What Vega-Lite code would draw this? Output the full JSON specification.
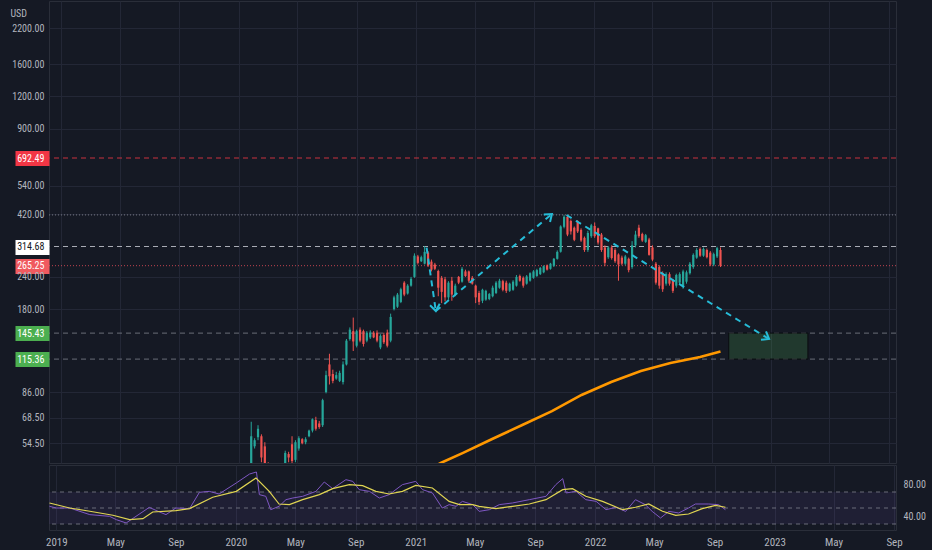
{
  "$schema": "https://vega.github.io/schema/vega-lite/v6.json",
  "background": "#151924",
  "padding": {"left": 7, "top": 0, "right": 12, "bottom": 8},
  "spacing": 0,
  "config": {
    "view": {"stroke": "#2a2e39", "strokeWidth": 1},
    "axis": {
      "labelFont": "Liberation Sans Narrow, Roboto Condensed, DejaVu Sans Condensed, Liberation Sans, sans-serif",
      "labelFontSize": 11,
      "labelColor": "#b2b5be",
      "gridColor": "#232736",
      "domain": false,
      "ticks": false
    }
  },
  "datasets": {
    "candles": [
      {"date": "2020-01-27", "open": 44, "high": 66, "low": 42, "close": 58},
      {"date": "2020-02-03", "open": 53, "high": 57, "low": 52, "close": 56},
      {"date": "2020-02-10", "open": 57.5, "high": 64, "low": 56, "close": 62},
      {"date": "2020-02-17", "open": 58, "high": 59, "low": 46, "close": 48},
      {"date": "2020-02-24", "open": 53, "high": 55, "low": 42, "close": 44},
      {"date": "2020-03-02", "open": 44, "high": 46, "low": 36, "close": 38},
      {"date": "2020-03-09", "open": 38, "high": 40, "low": 28, "close": 30},
      {"date": "2020-03-16", "open": 30, "high": 32, "low": 22, "close": 25},
      {"date": "2020-03-23", "open": 25, "high": 32, "low": 24, "close": 30},
      {"date": "2020-03-30", "open": 30, "high": 35, "low": 28, "close": 33},
      {"date": "2020-04-06", "open": 36, "high": 51, "low": 35, "close": 50},
      {"date": "2020-04-13", "open": 49.5, "high": 50.5, "low": 46, "close": 48},
      {"date": "2020-04-20", "open": 54, "high": 58, "low": 44, "close": 46.5},
      {"date": "2020-04-27", "open": 47, "high": 56, "low": 46, "close": 55},
      {"date": "2020-05-04", "open": 52, "high": 58, "low": 51, "close": 57},
      {"date": "2020-05-11", "open": 56.5, "high": 57, "low": 54, "close": 54.5},
      {"date": "2020-05-18", "open": 55, "high": 57.5, "low": 54, "close": 56.5},
      {"date": "2020-05-25", "open": 58, "high": 61.5, "low": 57.5, "close": 61},
      {"date": "2020-06-01", "open": 61, "high": 68, "low": 60, "close": 67.5},
      {"date": "2020-06-08", "open": 67, "high": 69, "low": 61, "close": 62},
      {"date": "2020-06-15", "open": 65, "high": 66.5, "low": 62, "close": 63},
      {"date": "2020-06-22", "open": 64, "high": 81, "low": 63, "close": 80},
      {"date": "2020-06-29", "open": 86, "high": 104, "low": 85, "close": 100},
      {"date": "2020-07-06", "open": 110, "high": 121, "low": 92, "close": 99},
      {"date": "2020-07-13", "open": 101, "high": 105, "low": 93, "close": 95},
      {"date": "2020-07-20", "open": 97, "high": 103, "low": 96, "close": 100},
      {"date": "2020-07-27", "open": 95, "high": 104, "low": 94, "close": 102},
      {"date": "2020-08-03", "open": 94, "high": 113, "low": 92, "close": 110},
      {"date": "2020-08-10", "open": 110, "high": 138, "low": 109, "close": 136},
      {"date": "2020-08-17", "open": 138, "high": 153, "low": 136, "close": 150},
      {"date": "2020-08-24", "open": 148, "high": 167, "low": 124, "close": 135},
      {"date": "2020-08-31", "open": 130, "high": 150, "low": 128, "close": 148},
      {"date": "2020-09-07", "open": 150, "high": 153, "low": 134, "close": 136},
      {"date": "2020-09-14", "open": 148, "high": 150, "low": 129, "close": 132},
      {"date": "2020-09-21", "open": 136, "high": 148, "low": 134, "close": 146},
      {"date": "2020-09-28", "open": 140, "high": 149, "low": 138, "close": 146},
      {"date": "2020-10-05", "open": 146, "high": 148, "low": 139, "close": 140},
      {"date": "2020-10-12", "open": 146, "high": 149, "low": 134, "close": 136},
      {"date": "2020-10-19", "open": 128, "high": 144, "low": 126, "close": 142},
      {"date": "2020-10-26", "open": 143, "high": 146, "low": 132, "close": 134},
      {"date": "2020-11-02", "open": 146, "high": 150, "low": 128, "close": 130},
      {"date": "2020-11-09", "open": 136, "high": 173, "low": 134, "close": 168},
      {"date": "2020-11-16", "open": 180, "high": 203, "low": 178, "close": 200},
      {"date": "2020-11-23", "open": 184, "high": 208, "low": 182, "close": 205},
      {"date": "2020-11-30", "open": 192, "high": 218, "low": 190, "close": 215},
      {"date": "2020-12-07", "open": 228, "high": 231, "low": 202, "close": 205},
      {"date": "2020-12-14", "open": 207, "high": 225, "low": 205, "close": 222},
      {"date": "2020-12-21", "open": 222, "high": 240, "low": 220, "close": 236},
      {"date": "2020-12-28", "open": 240, "high": 296, "low": 238, "close": 290},
      {"date": "2021-01-04", "open": 288, "high": 292, "low": 268, "close": 272},
      {"date": "2021-01-11", "open": 276, "high": 290, "low": 274, "close": 286},
      {"date": "2021-01-18", "open": 270, "high": 316, "low": 268, "close": 300},
      {"date": "2021-01-25", "open": 298, "high": 302, "low": 262, "close": 265},
      {"date": "2021-02-01", "open": 275, "high": 280, "low": 252, "close": 256},
      {"date": "2021-02-08", "open": 268, "high": 272, "low": 255, "close": 258},
      {"date": "2021-02-15", "open": 253, "high": 256, "low": 202, "close": 218},
      {"date": "2021-02-22", "open": 238, "high": 242, "low": 190, "close": 210},
      {"date": "2021-03-01", "open": 235, "high": 240, "low": 193, "close": 200},
      {"date": "2021-03-08", "open": 200, "high": 231, "low": 196, "close": 228},
      {"date": "2021-03-15", "open": 232, "high": 240, "low": 194, "close": 205},
      {"date": "2021-03-22", "open": 205, "high": 226, "low": 202, "close": 222},
      {"date": "2021-03-29", "open": 240, "high": 242, "low": 225, "close": 228},
      {"date": "2021-04-05", "open": 230, "high": 262, "low": 228, "close": 258},
      {"date": "2021-04-12", "open": 252, "high": 256, "low": 240, "close": 242},
      {"date": "2021-04-19", "open": 252, "high": 254, "low": 228, "close": 232},
      {"date": "2021-04-26", "open": 238, "high": 242, "low": 224, "close": 226},
      {"date": "2021-05-03", "open": 222, "high": 224, "low": 190, "close": 200},
      {"date": "2021-05-10", "open": 208, "high": 212, "low": 187, "close": 192},
      {"date": "2021-05-17", "open": 194, "high": 216, "low": 190, "close": 214},
      {"date": "2021-05-24", "open": 196, "high": 214, "low": 194, "close": 212},
      {"date": "2021-05-31", "open": 197, "high": 208, "low": 195, "close": 206},
      {"date": "2021-06-07", "open": 202, "high": 222, "low": 200, "close": 218},
      {"date": "2021-06-14", "open": 208, "high": 231, "low": 206, "close": 228},
      {"date": "2021-06-21", "open": 218, "high": 236, "low": 216, "close": 232},
      {"date": "2021-06-28", "open": 231, "high": 234, "low": 211, "close": 214},
      {"date": "2021-07-05", "open": 228, "high": 232, "low": 208, "close": 212},
      {"date": "2021-07-12", "open": 212, "high": 228, "low": 210, "close": 226},
      {"date": "2021-07-19", "open": 214, "high": 233, "low": 212, "close": 230},
      {"date": "2021-07-26", "open": 222, "high": 244, "low": 220, "close": 240},
      {"date": "2021-08-02", "open": 242, "high": 245, "low": 230, "close": 232},
      {"date": "2021-08-09", "open": 238, "high": 241, "low": 218, "close": 222},
      {"date": "2021-08-16", "open": 226, "high": 244, "low": 224, "close": 241},
      {"date": "2021-08-23", "open": 232, "high": 250, "low": 230, "close": 248},
      {"date": "2021-08-30", "open": 238, "high": 255, "low": 236, "close": 252},
      {"date": "2021-09-06", "open": 242, "high": 258, "low": 240, "close": 255},
      {"date": "2021-09-13", "open": 246, "high": 262, "low": 244, "close": 260},
      {"date": "2021-09-20", "open": 250, "high": 266, "low": 248, "close": 264},
      {"date": "2021-09-27", "open": 266, "high": 268, "low": 254, "close": 256},
      {"date": "2021-10-04", "open": 258, "high": 272, "low": 256, "close": 270},
      {"date": "2021-10-11", "open": 265, "high": 284, "low": 262, "close": 282},
      {"date": "2021-10-18", "open": 282, "high": 304, "low": 280, "close": 300},
      {"date": "2021-10-25", "open": 300, "high": 380, "low": 298, "close": 376},
      {"date": "2021-11-01", "open": 375, "high": 416, "low": 370, "close": 410},
      {"date": "2021-11-08", "open": 410, "high": 415, "low": 345, "close": 350},
      {"date": "2021-11-15", "open": 395, "high": 400, "low": 350, "close": 360},
      {"date": "2021-11-22", "open": 372, "high": 376, "low": 330, "close": 334},
      {"date": "2021-11-29", "open": 394, "high": 398, "low": 355, "close": 360},
      {"date": "2021-12-06", "open": 365, "high": 370, "low": 328, "close": 332},
      {"date": "2021-12-13", "open": 340, "high": 344, "low": 300, "close": 305},
      {"date": "2021-12-20", "open": 305, "high": 362, "low": 300, "close": 355},
      {"date": "2021-12-27", "open": 345, "high": 385, "low": 340, "close": 380},
      {"date": "2022-01-03", "open": 378, "high": 390, "low": 340, "close": 345},
      {"date": "2022-01-10", "open": 370, "high": 372, "low": 320, "close": 326},
      {"date": "2022-01-17", "open": 350, "high": 355, "low": 300, "close": 305},
      {"date": "2022-01-24", "open": 312, "high": 318, "low": 264, "close": 272},
      {"date": "2022-01-31", "open": 286, "high": 316, "low": 282, "close": 312},
      {"date": "2022-02-07", "open": 312, "high": 318, "low": 280, "close": 284},
      {"date": "2022-02-14", "open": 305, "high": 310, "low": 272, "close": 276},
      {"date": "2022-02-21", "open": 293, "high": 296, "low": 232, "close": 268},
      {"date": "2022-02-28", "open": 285, "high": 290, "low": 266, "close": 270},
      {"date": "2022-03-07", "open": 270, "high": 292, "low": 266, "close": 288},
      {"date": "2022-03-14", "open": 282, "high": 285, "low": 250, "close": 255},
      {"date": "2022-03-21", "open": 262, "high": 330, "low": 258, "close": 318},
      {"date": "2022-03-28", "open": 318, "high": 362, "low": 312, "close": 350},
      {"date": "2022-04-04", "open": 372, "high": 382, "low": 340, "close": 345},
      {"date": "2022-04-11", "open": 352, "high": 356, "low": 328, "close": 332},
      {"date": "2022-04-18", "open": 328, "high": 352, "low": 325, "close": 348},
      {"date": "2022-04-25", "open": 335, "high": 340, "low": 290, "close": 292},
      {"date": "2022-05-02", "open": 312, "high": 318, "low": 276, "close": 280},
      {"date": "2022-05-09", "open": 270, "high": 274, "low": 224, "close": 228},
      {"date": "2022-05-16", "open": 262, "high": 266, "low": 216, "close": 222},
      {"date": "2022-05-23", "open": 248, "high": 252, "low": 210, "close": 215},
      {"date": "2022-05-30", "open": 226, "high": 250, "low": 222, "close": 246},
      {"date": "2022-06-06", "open": 246, "high": 250, "low": 222, "close": 226},
      {"date": "2022-06-13", "open": 234, "high": 236, "low": 208, "close": 212},
      {"date": "2022-06-20", "open": 222, "high": 247, "low": 218, "close": 244},
      {"date": "2022-06-27", "open": 228, "high": 250, "low": 224, "close": 246},
      {"date": "2022-07-04", "open": 220, "high": 256, "low": 216, "close": 252},
      {"date": "2022-07-11", "open": 230, "high": 254, "low": 226, "close": 250},
      {"date": "2022-07-18", "open": 248, "high": 274, "low": 245, "close": 270},
      {"date": "2022-07-25", "open": 262, "high": 296, "low": 258, "close": 292},
      {"date": "2022-08-01", "open": 285, "high": 310, "low": 282, "close": 305},
      {"date": "2022-08-08", "open": 308, "high": 312, "low": 287, "close": 290},
      {"date": "2022-08-15", "open": 290, "high": 312, "low": 287, "close": 308},
      {"date": "2022-08-22", "open": 305, "high": 309, "low": 283, "close": 286},
      {"date": "2022-08-29", "open": 298, "high": 302, "low": 264, "close": 268},
      {"date": "2022-09-05", "open": 268, "high": 298, "low": 264, "close": 294},
      {"date": "2022-09-12", "open": 288, "high": 314, "low": 284, "close": 310},
      {"date": "2022-09-19", "open": 305, "high": 312, "low": 262, "close": 265.25}
    ],
    "ma": [
      {"date": "2021-02-04", "value": 44},
      {"date": "2021-02-20", "value": 45.7},
      {"date": "2021-04-06", "value": 49.9},
      {"date": "2021-06-06", "value": 56.6},
      {"date": "2021-08-07", "value": 64.1},
      {"date": "2021-10-07", "value": 72.6},
      {"date": "2021-12-07", "value": 83.8},
      {"date": "2022-02-06", "value": 94.1},
      {"date": "2022-04-08", "value": 103.7},
      {"date": "2022-06-08", "value": 111.4},
      {"date": "2022-08-08", "value": 117.5},
      {"date": "2022-09-19", "value": 123.5}
    ],
    "levels": [
      {"name": "target", "price": 692.49},
      {"name": "ath", "price": 417},
      {"name": "resistance", "price": 314.68},
      {"name": "last", "price": 265.25},
      {"name": "support", "price": 145.43},
      {"name": "support", "price": 115.36}
    ],
    "zone": [
      {"start": "2022-10-06", "end": "2023-03-18", "top": 145.43, "bottom": 115.36}
    ],
    "arrows": [
      {"arrow": "a1", "point": "start", "date": "2021-01-22", "price": 311.4},
      {"arrow": "a1", "point": "end", "date": "2021-02-10", "price": 177.1},
      {"arrow": "a2", "point": "start", "date": "2021-02-10", "price": 177.1},
      {"arrow": "a2", "point": "end", "date": "2021-10-07", "price": 420.3},
      {"arrow": "a3", "point": "start", "date": "2021-11-06", "price": 416.7},
      {"arrow": "a3", "point": "end", "date": "2022-12-28", "price": 138}
    ],
    "rsi": [
      {"date": "2018-12-18", "value": 52.1},
      {"date": "2019-01-01", "value": 50},
      {"date": "2019-01-28", "value": 50},
      {"date": "2019-03-10", "value": 41.7},
      {"date": "2019-04-19", "value": 39.6},
      {"date": "2019-05-03", "value": 35.4},
      {"date": "2019-05-23", "value": 31.3},
      {"date": "2019-06-12", "value": 39.6},
      {"date": "2019-07-09", "value": 50.8},
      {"date": "2019-07-30", "value": 45},
      {"date": "2019-08-12", "value": 41.7},
      {"date": "2019-09-01", "value": 50},
      {"date": "2019-09-29", "value": 49.2},
      {"date": "2019-10-19", "value": 69.6},
      {"date": "2019-11-08", "value": 70.8},
      {"date": "2019-11-28", "value": 67.5},
      {"date": "2020-01-02", "value": 81.3},
      {"date": "2020-01-29", "value": 92.5},
      {"date": "2020-02-12", "value": 95},
      {"date": "2020-02-18", "value": 66.7},
      {"date": "2020-03-02", "value": 64.6},
      {"date": "2020-03-12", "value": 47.9},
      {"date": "2020-03-29", "value": 52.1},
      {"date": "2020-04-12", "value": 60.4},
      {"date": "2020-04-26", "value": 62.5},
      {"date": "2020-05-16", "value": 64.6},
      {"date": "2020-06-12", "value": 70.8},
      {"date": "2020-06-29", "value": 82.5},
      {"date": "2020-07-16", "value": 74.2},
      {"date": "2020-08-12", "value": 85.4},
      {"date": "2020-08-26", "value": 83.3},
      {"date": "2020-09-08", "value": 72.9},
      {"date": "2020-09-29", "value": 70.8},
      {"date": "2020-10-19", "value": 62.5},
      {"date": "2020-11-08", "value": 66.7},
      {"date": "2020-12-05", "value": 79.2},
      {"date": "2021-01-01", "value": 83.3},
      {"date": "2021-01-15", "value": 72.9},
      {"date": "2021-02-04", "value": 68.8},
      {"date": "2021-02-24", "value": 50},
      {"date": "2021-03-10", "value": 54.2},
      {"date": "2021-03-24", "value": 52.1},
      {"date": "2021-04-06", "value": 58.3},
      {"date": "2021-04-27", "value": 54.2},
      {"date": "2021-05-10", "value": 45.8},
      {"date": "2021-05-31", "value": 47.9},
      {"date": "2021-06-20", "value": 54.2},
      {"date": "2021-07-17", "value": 56.3},
      {"date": "2021-08-20", "value": 60.4},
      {"date": "2021-09-23", "value": 64.6},
      {"date": "2021-10-13", "value": 79.2},
      {"date": "2021-10-27", "value": 86.7},
      {"date": "2021-11-03", "value": 68.8},
      {"date": "2021-11-23", "value": 70.8},
      {"date": "2021-12-13", "value": 60.4},
      {"date": "2022-01-03", "value": 58.3},
      {"date": "2022-01-23", "value": 47.9},
      {"date": "2022-02-12", "value": 50.8},
      {"date": "2022-03-04", "value": 45.8},
      {"date": "2022-03-24", "value": 60.4},
      {"date": "2022-04-13", "value": 54.2},
      {"date": "2022-04-27", "value": 45.8},
      {"date": "2022-05-14", "value": 37.5},
      {"date": "2022-05-31", "value": 45.8},
      {"date": "2022-06-20", "value": 43.8},
      {"date": "2022-07-10", "value": 50},
      {"date": "2022-07-24", "value": 55},
      {"date": "2022-08-20", "value": 55},
      {"date": "2022-09-09", "value": 54.2},
      {"date": "2022-09-23", "value": 47.9}
    ],
    "rsima": [
      {"date": "2018-12-18", "value": 56.3},
      {"date": "2019-01-28", "value": 50},
      {"date": "2019-03-10", "value": 45.9},
      {"date": "2019-04-26", "value": 40.9},
      {"date": "2019-05-30", "value": 35.4},
      {"date": "2019-06-26", "value": 36.6},
      {"date": "2019-07-16", "value": 45},
      {"date": "2019-09-01", "value": 46.7},
      {"date": "2019-09-29", "value": 49.2},
      {"date": "2019-11-15", "value": 63.4},
      {"date": "2020-01-02", "value": 70.8},
      {"date": "2020-02-11", "value": 87.5},
      {"date": "2020-03-09", "value": 70.8},
      {"date": "2020-03-29", "value": 55},
      {"date": "2020-04-19", "value": 54.2},
      {"date": "2020-05-16", "value": 60.4},
      {"date": "2020-06-19", "value": 66.7},
      {"date": "2020-07-16", "value": 74.2},
      {"date": "2020-08-19", "value": 79.2},
      {"date": "2020-09-15", "value": 77.9},
      {"date": "2020-10-12", "value": 70.8},
      {"date": "2020-11-08", "value": 67.5},
      {"date": "2020-12-05", "value": 70.8},
      {"date": "2021-01-01", "value": 78.3},
      {"date": "2021-02-04", "value": 75},
      {"date": "2021-03-10", "value": 58.3},
      {"date": "2021-03-31", "value": 54.2},
      {"date": "2021-04-27", "value": 54.2},
      {"date": "2021-05-10", "value": 52.1},
      {"date": "2021-06-13", "value": 49.2},
      {"date": "2021-07-17", "value": 52.1},
      {"date": "2021-08-20", "value": 55},
      {"date": "2021-09-23", "value": 60.4},
      {"date": "2021-10-27", "value": 72.9},
      {"date": "2021-11-16", "value": 74.2},
      {"date": "2021-12-13", "value": 64.6},
      {"date": "2022-01-16", "value": 58.3},
      {"date": "2022-02-26", "value": 47.9},
      {"date": "2022-03-24", "value": 50.9},
      {"date": "2022-04-20", "value": 55},
      {"date": "2022-05-18", "value": 45.9},
      {"date": "2022-06-14", "value": 40.9},
      {"date": "2022-07-10", "value": 42.5},
      {"date": "2022-08-07", "value": 49.2},
      {"date": "2022-09-03", "value": 53.3},
      {"date": "2022-09-23", "value": 50.9}
    ],
    "rsiband": [{"hi": 70, "lo": 30}],
    "rsilevels": [{"level": 70}, {"level": 50}, {"level": 30}]
  },
  "vconcat": [
    {
      "width": 847,
      "height": 462,
      "layer": [
        {
          "data": {"name": "levels"},
          "transform": [{"filter": "datum.name == 'target'"}],
          "mark": {"type": "rule", "color": "#c8323f", "strokeDash": [5, 4], "strokeWidth": 1},
          "encoding": {
            "y": {
              "field": "price", "type": "quantitative",
              "scale": {"type": "log", "domain": [45.7, 2806], "nice": false},
              "axis": {
                "orient": "left",
                "values": [54.5, 68.5, 86, 115.36, 145.43, 180, 240, 265.25, 314.68, 420, 540, 692.49, 900, 1200, 1600, 2200],
                "format": ".2f",
                "labelOverlap": false,
                "labelFontSize": 10,
                "grid": true,
                "gridColor": {"condition": {"test": "datum.value == 692.49 || datum.value == 314.68 || datum.value == 265.25 || datum.value == 145.43 || datum.value == 115.36", "value": "transparent"}, "value": "#232736"},
                "ticks": true,
                "tickSize": 34,
                "tickWidth": 15,
                "tickColor": {"condition": [
                  {"test": "datum.value == 692.49", "value": "#f23645"},
                  {"test": "datum.value == 314.68", "value": "#ffffff"},
                  {"test": "datum.value == 265.25", "value": "#f05a5f"},
                  {"test": "datum.value == 145.43 || datum.value == 115.36", "value": "#4caf50"}
                ], "value": "transparent"},
                "labelPadding": -29,
                "labelColor": {"condition": [
                  {"test": "datum.value == 314.68", "value": "#131722"},
                  {"test": "datum.value == 692.49 || datum.value == 265.25 || datum.value == 145.43 || datum.value == 115.36", "value": "#ffffff"}
                ], "value": "#b2b5be"},
                "title": "USD",
                "titleAngle": 0,
                "titleAlign": "left",
                "titleBaseline": "middle",
                "titleX": -39,
                "titleY": 12,
                "titleFont": "Liberation Sans Narrow, Roboto Condensed, DejaVu Sans Condensed, Liberation Sans, sans-serif",
                "titleFontSize": 10,
                "titleFontWeight": "normal",
                "titleColor": "#b2b5be"
              }
            }
          }
        },
        {
          "data": {"name": "levels"},
          "transform": [{"filter": "datum.name == 'ath'"}],
          "mark": {"type": "rule", "color": "#787b86", "strokeDash": [1, 2], "strokeWidth": 1},
          "encoding": {"y": {"field": "price", "type": "quantitative"}}
        },
        {
          "data": {"name": "levels"},
          "transform": [{"filter": "datum.name == 'resistance'"}],
          "mark": {"type": "rule", "color": "#a9acb5", "strokeDash": [5, 4], "strokeWidth": 1},
          "encoding": {"y": {"field": "price", "type": "quantitative"}}
        },
        {
          "data": {"name": "levels"},
          "transform": [{"filter": "datum.name == 'last'"}],
          "mark": {"type": "rule", "color": "#f7525f", "strokeDash": [1, 2], "strokeWidth": 1, "opacity": 0.75},
          "encoding": {"y": {"field": "price", "type": "quantitative"}}
        },
        {
          "data": {"name": "levels"},
          "transform": [{"filter": "datum.name == 'support'"}],
          "mark": {"type": "rule", "color": "#787b86", "strokeDash": [5, 4], "strokeWidth": 1, "opacity": 0.85},
          "encoding": {"y": {"field": "price", "type": "quantitative"}}
        },
        {
          "data": {"name": "zone"},
          "mark": {"type": "rect", "fill": "#4caf50", "fillOpacity": 0.22, "stroke": "#0a0c10", "strokeWidth": 1},
          "encoding": {
            "x": {
              "field": "start", "type": "temporal", "title": null,
              "scale": {"type": "utc", "nice": false, "domain": [{"year": 2018, "month": 12, "date": 17, "utc": true}, {"year": 2023, "month": 9, "date": 5, "utc": true}]},
              "axis": {
                "values": [
                  {"year": 2019, "month": 1, "date": 1, "utc": true}, {"year": 2019, "month": 5, "date": 1, "utc": true}, {"year": 2019, "month": 9, "date": 1, "utc": true},
                  {"year": 2020, "month": 1, "date": 1, "utc": true}, {"year": 2020, "month": 5, "date": 1, "utc": true}, {"year": 2020, "month": 9, "date": 1, "utc": true},
                  {"year": 2021, "month": 1, "date": 1, "utc": true}, {"year": 2021, "month": 5, "date": 1, "utc": true}, {"year": 2021, "month": 9, "date": 1, "utc": true},
                  {"year": 2022, "month": 1, "date": 1, "utc": true}, {"year": 2022, "month": 5, "date": 1, "utc": true}, {"year": 2022, "month": 9, "date": 1, "utc": true},
                  {"year": 2023, "month": 1, "date": 1, "utc": true}, {"year": 2023, "month": 5, "date": 1, "utc": true}, {"year": 2023, "month": 9, "date": 1, "utc": true}
                ],
                "labels": false,
                "grid": true,
                "gridColor": "#232736",
                "title": null
              }
            },
            "x2": {"field": "end"},
            "y": {"field": "top", "type": "quantitative"},
            "y2": {"field": "bottom"}
          }
        },
        {
          "data": {"name": "ma"},
          "mark": {"type": "line", "color": "#ff9800", "strokeWidth": 2.6, "clip": true},
          "encoding": {
            "x": {"field": "date", "type": "temporal", "title": null},
            "y": {"field": "value", "type": "quantitative"}
          }
        },
        {
          "data": {"name": "candles"},
          "mark": {"type": "rule", "strokeWidth": 1, "clip": true},
          "encoding": {
            "x": {"field": "date", "type": "temporal", "title": null},
            "y": {"field": "low", "type": "quantitative"},
            "y2": {"field": "high"},
            "color": {"condition": {"test": "datum.close >= datum.open", "value": "#26a69a"}, "value": "#ef5350"}
          }
        },
        {
          "data": {"name": "candles"},
          "mark": {"type": "bar", "size": 2.2, "clip": true},
          "encoding": {
            "x": {"field": "date", "type": "temporal", "title": null},
            "y": {"field": "open", "type": "quantitative"},
            "y2": {"field": "close"},
            "color": {"condition": {"test": "datum.close >= datum.open", "value": "#26a69a"}, "value": "#ef5350"}
          }
        },
        {
          "data": {"name": "arrows"},
          "mark": {"type": "line", "color": "#26bcd7", "strokeWidth": 2, "strokeDash": [6, 5], "clip": true},
          "encoding": {
            "x": {"field": "date", "type": "temporal", "title": null},
            "y": {"field": "price", "type": "quantitative"},
            "detail": {"field": "arrow"}
          }
        },
        {
          "data": {"name": "arrows"},
          "transform": [{"filter": "datum.arrow == 'a1' && datum.point == 'end'"}],
          "mark": {"type": "point", "shape": "M -1 -0.75 L 0 0 L -1 0.75", "size": 170, "filled": false, "stroke": "#26bcd7", "strokeWidth": 2, "opacity": 1, "angle": 81.6},
          "encoding": {
            "x": {"field": "date", "type": "temporal", "title": null},
            "y": {"field": "price", "type": "quantitative"}
          }
        },
        {
          "data": {"name": "arrows"},
          "transform": [{"filter": "datum.arrow == 'a2' && datum.point == 'end'"}],
          "mark": {"type": "point", "shape": "M -1 -0.75 L 0 0 L -1 0.75", "size": 170, "filled": false, "stroke": "#26bcd7", "strokeWidth": 2, "opacity": 1, "angle": -39.7},
          "encoding": {
            "x": {"field": "date", "type": "temporal", "title": null},
            "y": {"field": "price", "type": "quantitative"}
          }
        },
        {
          "data": {"name": "arrows"},
          "transform": [{"filter": "datum.arrow == 'a3' && datum.point == 'end'"}],
          "mark": {"type": "point", "shape": "M -1 -0.75 L 0 0 L -1 0.75", "size": 170, "filled": false, "stroke": "#26bcd7", "strokeWidth": 2, "opacity": 1, "angle": 31.2},
          "encoding": {
            "x": {"field": "date", "type": "temporal", "title": null},
            "y": {"field": "price", "type": "quantitative"}
          }
        }
      ]
    },
    {
      "width": 847,
      "height": 65,
      "layer": [
        {
          "data": {"name": "rsiband"},
          "mark": {"type": "rect", "fill": "#7e57c2", "fillOpacity": 0.1},
          "encoding": {
            "y": {
              "field": "hi", "type": "quantitative", "title": null,
              "scale": {"domain": [22.5, 103.75], "nice": false, "zero": false},
              "axis": {"orient": "right", "values": [80, 40], "format": ".2f", "grid": false, "labelPadding": 7, "labelFontSize": 10}
            },
            "y2": {"field": "lo"}
          }
        },
        {
          "data": {"name": "rsilevels"},
          "mark": {"type": "rule", "color": "#787b86", "strokeDash": [4, 4], "strokeWidth": 1, "opacity": 0.85},
          "encoding": {"y": {"field": "level", "type": "quantitative", "title": null}}
        },
        {
          "data": {"name": "rsi"},
          "mark": {"type": "line", "color": "#7e57c2", "strokeWidth": 1},
          "encoding": {
            "x": {
              "field": "date", "type": "temporal", "title": null,
              "scale": {"type": "utc", "nice": false, "domain": [{"year": 2018, "month": 12, "date": 17, "utc": true}, {"year": 2023, "month": 9, "date": 5, "utc": true}]},
              "axis": {
                "values": [
                  {"year": 2019, "month": 1, "date": 1, "utc": true}, {"year": 2019, "month": 5, "date": 1, "utc": true}, {"year": 2019, "month": 9, "date": 1, "utc": true},
                  {"year": 2020, "month": 1, "date": 1, "utc": true}, {"year": 2020, "month": 5, "date": 1, "utc": true}, {"year": 2020, "month": 9, "date": 1, "utc": true},
                  {"year": 2021, "month": 1, "date": 1, "utc": true}, {"year": 2021, "month": 5, "date": 1, "utc": true}, {"year": 2021, "month": 9, "date": 1, "utc": true},
                  {"year": 2022, "month": 1, "date": 1, "utc": true}, {"year": 2022, "month": 5, "date": 1, "utc": true}, {"year": 2022, "month": 9, "date": 1, "utc": true},
                  {"year": 2023, "month": 1, "date": 1, "utc": true}, {"year": 2023, "month": 5, "date": 1, "utc": true}, {"year": 2023, "month": 9, "date": 1, "utc": true}
                ],
                "labelExpr": "utcFormat(datum.value, '%m') == '01' ? utcFormat(datum.value, '%Y') : utcFormat(datum.value, '%b')",
                "labelOverlap": false,
                "labelPadding": 6,
                "grid": true,
                "gridColor": "#232736",
                "title": null
              }
            },
            "y": {"field": "value", "type": "quantitative", "title": null}
          }
        },
        {
          "data": {"name": "rsima"},
          "mark": {"type": "line", "color": "#e0d552", "strokeWidth": 1.2},
          "encoding": {
            "x": {"field": "date", "type": "temporal", "title": null},
            "y": {"field": "value", "type": "quantitative", "title": null}
          }
        }
      ]
    }
  ]
}
